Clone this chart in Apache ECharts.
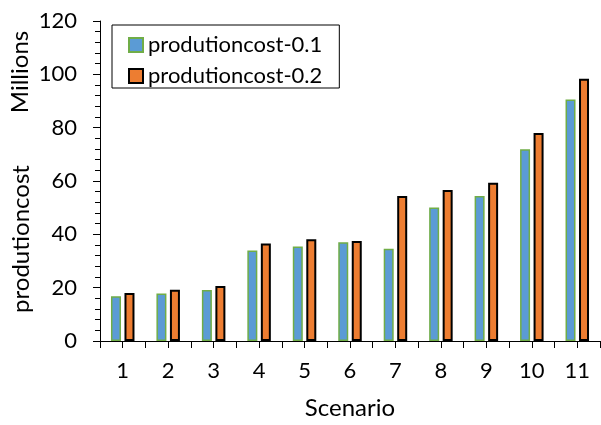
<!DOCTYPE html>
<html>
<head>
<meta charset="utf-8">
<script src="https://cdn.jsdelivr.net/npm/echarts@6/dist/echarts.min.js"></script>
<style>
  html, body { margin: 0; padding: 0; background: #fff; }
  #chart { width: 601px; height: 425px; }
</style>
</head>
<body>
<div id="chart"></div>
<script>
// Production cost per scenario (values in millions)
const scenarios = ['1', '2', '3', '4', '5', '6', '7', '8', '9', '10', '11'];
const cost01 = [16.8, 17.8, 19.1, 33.9, 35.4, 37.0, 34.6, 50.1, 54.4, 71.9, 90.6];
const cost02 = [18.0, 19.2, 20.6, 36.6, 38.2, 37.5, 54.4, 56.6, 59.3, 78.0, 98.3];
const seriesNames = ['produtioncost-0.1', 'produtioncost-0.2'];

const FONT = 'Lato';
const chart = echarts.init(document.getElementById('chart'), null, { renderer: 'canvas' });

chart.setOption({
  animation: false,
  backgroundColor: '#ffffff',
  textStyle: { fontFamily: FONT, color: '#000' },
  grid: { left: 100, right: 1, top: 21, bottom: 77, containLabel: false },
  legend: {
    orient: 'vertical',
    left: 112,
    top: 25,
    padding: [9, 17, 1, 16],
    borderColor: '#000',
    borderWidth: 1,
    itemWidth: 14,
    itemHeight: 14,
    itemGap: 9,
    icon: 'rect',
    textStyle: { fontFamily: FONT, fontSize: 22, color: '#000' },
    data: seriesNames
  },
  xAxis: [
    {
      type: 'category',
      data: scenarios,
      position: 'bottom',
      name: 'Scenario',
      nameLocation: 'middle',
      nameGap: 55,
      nameTextStyle: { fontFamily: FONT, fontSize: 24, color: '#000' },
      axisLine: { lineStyle: { color: '#000', width: 1 } },
      axisTick: { show: true, inside: false, length: 7, lineStyle: { color: '#000' } },
      axisLabel: { fontFamily: FONT, fontSize: 22, color: '#000', margin: 19 }
    },
    {
      // extra tick marks at category centres
      type: 'category',
      data: scenarios,
      position: 'bottom',
      axisLine: { show: false },
      axisTick: { show: true, alignWithLabel: true, length: 7, lineStyle: { color: '#000' } },
      axisLabel: { show: false }
    }
  ],
  yAxis: {
    type: 'value',
    min: 0,
    max: 120,
    interval: 20,
    axisLine: { show: true, lineStyle: { color: '#000', width: 1 } },
    axisTick: { show: true, length: 7, lineStyle: { color: '#000' } },
    minorTick: { show: true, splitNumber: 5, length: 5, lineStyle: { color: '#000' } },
    splitLine: { show: false },
    axisLabel: { fontFamily: FONT, fontSize: 22, color: '#000', margin: 23 }
  },
  graphic: [
    {
      type: 'text',
      x: 20, y: 72,
      rotation: Math.PI / 2,
      style: { text: 'Millions', fontFamily: FONT, fontSize: 24, fill: '#000', align: 'center', verticalAlign: 'middle' }
    },
    {
      type: 'text',
      x: 21, y: 239,
      rotation: Math.PI / 2,
      style: { text: 'produtioncost', fontFamily: FONT, fontSize: 24, fill: '#000', align: 'center', verticalAlign: 'middle' }
    }
  ],
  series: [
    {
      name: seriesNames[0],
      type: 'bar',
      xAxisIndex: 0,
      data: cost01,
      barWidth: 10,
      barGap: '35%',
      itemStyle: { color: '#5B9BD5', borderColor: '#70AD47', borderWidth: 1.5 }
    },
    {
      name: seriesNames[1],
      type: 'bar',
      xAxisIndex: 0,
      data: cost02,
      barWidth: 10,
      itemStyle: { color: '#ED7D31', borderColor: '#000', borderWidth: 2 }
    }
  ]
});
</script>
</body>
</html>
